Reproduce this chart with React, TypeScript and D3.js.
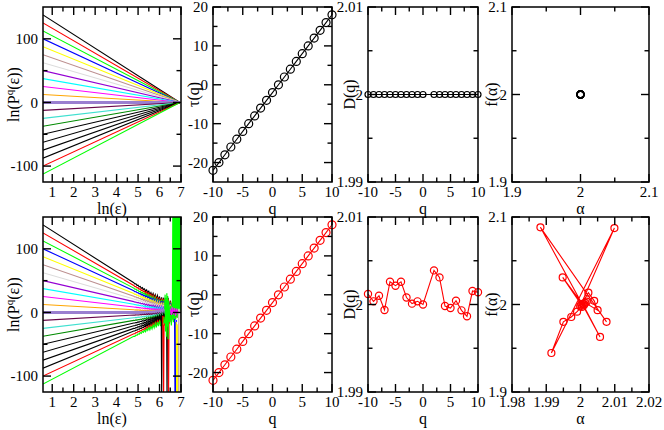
import React from "react";
import * as d3 from "d3";

const FONT = "Liberation Serif, Times New Roman, DejaVu Serif, serif";

// ---------- data ----------
const lnEpsDomain: [number, number] = [0.57, 7];
const lnEpsStart = 0.57;
const lnEpsConverge = 6.95;
const lnStartValues = [137.5, 125, 112.5, 100, 87.5, 75, 62.5, 50, 37.5, 25, 12.5, 0, -12.5, -25, -37.5, -50, -62.5, -75, -87.5, -100, -112.5];
const lineColors = ["#000000", "#ff0000", "#00ff00", "#0000ff", "#ffff00", "#bc8f8f", "#dcdcdc", "#9400d3", "#00ffff", "#ff00ff", "#ffa500", "#9a7fd0", "#670748", "#40e0d0", "#008b00", "#000000", "#000000", "#000000", "#000000", "#ff0000", "#00ff00"];
const jitterStartLn = 4.8;
const jitterStepLn = 0.05;
const bottomJitter = [0.4, -0.5, 0.7, -0.6, 0.9, -0.8, 1.0, -1.2, 1.3, -1.1, 1.6, -1.8, 2.0, -1.7, 2.3, -2.5, 2.2, -2.8, 3.0, -2.6, 3.4, -3.8, 4.0, -3.5, 4.6, -5.0, 5.5, -6.0, 7.0, -8.0, 9.0, -10, 11, -8, 9, -12, 10, -9, 8, -7, 6, -6, 5, -4];
const bottomSpikes: { color: string; pts: [number, number][] }[] = [
  { color: "#000000", pts: [[6.08, -3], [6.1, -130], [6.12, -6], [6.33, -2], [6.35, -130], [6.37, -5], [6.95, 3], [6.97, -20], [6.99, 4]] },
  { color: "#ff0000", pts: [[6.15, -5], [6.17, -60], [6.19, -130], [6.21, -20], [6.4, -10], [6.42, -130], [6.44, -15]] },
  { color: "#00ff00", pts: [[6.24, 5], [6.26, 28], [6.28, -30], [6.3, 22], [6.32, -38], [6.34, 30], [6.36, -22], [6.38, 26], [6.4, -42], [6.42, 18], [6.45, -8], [6.5, 10], [6.55, -6], [6.6, 12], [6.62, 160], [6.64, -6], [6.66, 160], [6.68, 2], [6.7, 160], [6.72, -10], [6.74, 160], [6.76, 0], [6.78, 160], [6.8, -4], [6.82, 160], [6.84, 2], [6.86, 160], [6.88, -8], [6.9, 160], [6.92, 0], [6.94, 160], [6.96, -2], [6.98, 160], [7.0, 0]] },
  { color: "#0000ff", pts: [[6.7, -10], [6.72, -130], [6.74, -15], [6.76, -130], [6.78, -12]] },
  { color: "#ffff00", pts: [[6.78, -15], [6.8, -130], [6.82, -20], [6.84, -130], [6.86, -18]] },
  { color: "#bc8f8f", pts: [[6.88, 5], [6.9, -130], [6.92, 0], [6.94, -130], [6.96, 4], [6.98, -130]] },
  { color: "#dcdcdc", pts: [[6.91, 6], [6.93, -130], [6.95, 2], [6.97, -130]] },
  { color: "#ff00ff", pts: [[6.5, 6], [6.55, -4], [6.6, 8], [6.65, -3], [6.7, 7], [6.75, -5], [6.8, 6], [6.85, -2]] },
];

const qValues = [-10, -9, -8, -7, -6, -5, -4, -3, -2, -1, 0, 1, 2, 3, 4, 5, 6, 7, 8, 9, 10];
const tauTop = [-22, -20, -18, -16, -14, -12, -10, -8, -6, -4, -2, 0, 2, 4, 6, 8, 10, 12, 14, 16, 18];
const tauBottom = [-22, -20, -18, -16, -14, -12, -10, -8, -6, -4, -2, 0, 2, 4, 6, 8, 10, 12, 14, 16, 18];

const qD = [-10, -9, -8, -7, -6, -5, -4, -3, -2, -1, 0, 2, 3, 4, 5, 6, 7, 8, 9, 10];
const dTop = [2, 2, 2, 2, 2, 2, 2, 2, 2, 2, 2, 2, 2, 2, 2, 2, 2, 2, 2, 2];
const dBottom = [2.0012, 2.00036, 2.001, 1.99937, 2.0026, 2.00215, 2.0026, 2.0008, 2.0001, 2.00036, 2.0, 2.0039, 2.0031, 1.99983, 1.9996, 2.00044, 1.99933, 1.99865, 2.00154, 2.0014];

const alphaTop = [2, 2, 2, 2, 2, 2, 2, 2, 2, 2, 2, 2, 2, 2, 2, 2, 2, 2, 2, 2];
const fTop = [2, 2, 2, 2, 2, 2, 2, 2, 2, 2, 2, 2, 2, 2, 2, 2, 2, 2, 2, 2];
const alphaBottom = [2.0076, 1.9883, 2.0057, 2.0009, 1.9948, 2.0002, 2.0023, 2.004, 2.005, 2.0014, 1.999, 1.9973, 1.995, 1.9915, 2.0099, 1.9999, 2.0006, 2.0018, 2.0011, 2.0004];
const fBottom = [1.9802, 2.0882, 1.9629, 1.9989, 2.031, 2.0, 2.0135, 2.0042, 1.9935, 2.0019, 1.9918, 1.9857, 1.9802, 1.9446, 2.0874, 1.998, 2.0008, 2.0032, 2.0004, 1.9972];

// ticks
const lnXMajor = [1, 2, 3, 4, 5, 6, 7];
const lnXMinor = [1.5, 2.5, 3.5, 4.5, 5.5, 6.5];
const lnYMajor = [-100, 0, 100];
const lnYMinor = [-50, 50];
const qMajor = [-10, -5, 0, 5, 10];
const qMinor = [-7.5, -2.5, 2.5, 7.5];
const tauYMajor = [-20, -10, 0, 10, 20];
const tauYMinor = [-15, -5, 5, 15];
const dYMajor = [1.99, 2, 2.01];
const dYMinor = [1.995, 2.005];
const fTopXMajor = [1.9, 2, 2.1];
const fTopXMinor = [1.95, 2.05];
const fYMajor = [1.9, 2, 2.1];
const fYMinor = [1.95, 2.05];
const fBotXMajor = [1.98, 1.99, 2, 2.01, 2.02];
const fBotXMinor = [1.985, 1.995, 2.005, 2.015];

// ---------- layout ----------
const COLS = [
  { x: 43, w: 138, tOff: -30 },
  { x: 213, w: 119, tOff: -20 },
  { x: 368, w: 110, tOff: -19 },
  { x: 512, w: 137, tOff: -21 },
];
const ROWS = [
  { y: 7, h: 175 },
  { y: 217, h: 175 },
];
const MAJ = 8;
const MIN = 4.5;

type Sc = d3.ScaleLinear<number, number>;

function Panel(props: {
  col: number;
  row: number;
  xDomain: [number, number];
  yDomain: [number, number];
  xMajor: number[];
  xMinor: number[];
  yMajor: number[];
  yMinor: number[];
  xTitle: React.ReactNode;
  yTitle: React.ReactNode;
  clipId?: string;
  children: (x: Sc, y: Sc) => React.ReactNode;
}) {
  const c = COLS[props.col];
  const r = ROWS[props.row];
  const x = d3.scaleLinear().domain(props.xDomain).range([c.x, c.x + c.w]);
  const y = d3.scaleLinear().domain(props.yDomain).range([r.y + r.h, r.y]);
  const bottom = r.y + r.h;
  const right = c.x + c.w;
  const tk = (key: string, x1: number, y1: number, x2: number, y2: number) => (
    <line key={key} x1={x1} y1={y1} x2={x2} y2={y2} stroke="#000" strokeWidth={1.4} />
  );
  const ticks: React.ReactNode[] = [];
  props.xMajor.forEach((v, i) => {
    const px = x(v);
    ticks.push(tk("xb" + i, px, bottom, px, bottom - MAJ));
    ticks.push(tk("xt" + i, px, r.y, px, r.y + MAJ));
  });
  props.xMinor.forEach((v, i) => {
    const px = x(v);
    ticks.push(tk("xbm" + i, px, bottom, px, bottom - MIN));
    ticks.push(tk("xtm" + i, px, r.y, px, r.y + MIN));
  });
  props.yMajor.forEach((v, i) => {
    const py = y(v);
    ticks.push(tk("yl" + i, c.x, py, c.x + MAJ, py));
    ticks.push(tk("yr" + i, right, py, right - MAJ, py));
  });
  props.yMinor.forEach((v, i) => {
    const py = y(v);
    ticks.push(tk("ylm" + i, c.x, py, c.x + MIN, py));
    ticks.push(tk("yrm" + i, right, py, right - MIN, py));
  });
  return (
    <g>
      {props.clipId && (
        <defs>
          <clipPath id={props.clipId}>
            <rect x={c.x} y={r.y} width={c.w} height={r.h} />
          </clipPath>
        </defs>
      )}
      <g clipPath={props.clipId ? `url(#${props.clipId})` : undefined}>{props.children(x, y)}</g>
      <rect x={c.x} y={r.y} width={c.w} height={r.h} fill="none" stroke="#000" strokeWidth={1.5} />
      {ticks}
      {props.xMajor.map((v, i) => (
        <text key={"xl" + i} x={x(v)} y={bottom + 15} textAnchor="middle" fontSize={15}>
          {String(v)}
        </text>
      ))}
      {props.yMajor.map((v, i) => (
        <text key={"yl" + i} x={c.x - 5} y={y(v)} dy="0.35em" textAnchor="end" fontSize={15}>
          {String(v)}
        </text>
      ))}
      <text x={c.x + c.w / 2} y={bottom + 32} textAnchor="middle" fontSize={16}>
        {props.xTitle}
      </text>
      <text
        transform={`translate(${c.x + c.tOff},${r.y + r.h / 2}) rotate(-90)`}
        textAnchor="middle"
        dy="0.35em"
        fontSize={16}
      >
        {props.yTitle}
      </text>
    </g>
  );
}

const lnYTitle = (
  <>
    <tspan>ln(P</tspan>
    <tspan dy={-6} fontSize={11}>q</tspan>
    <tspan dy={6}>(ε))</tspan>
  </>
);

function fanLines(x: Sc, y: Sc, noisy: boolean) {
  return lnStartValues.map((s, i) => {
    const pts: [number, number][] = [[lnEpsStart, s]];
    if (noisy) {
      const scale = 0.25 + (0.75 * Math.abs(s)) / 137.5;
      bottomJitter.forEach((j, k) => {
        const lx = jitterStartLn + jitterStepLn * k;
        const base = (s * (lnEpsConverge - lx)) / (lnEpsConverge - lnEpsStart);
        pts.push([lx, base + j * scale * (k % 2 === 0 ? 1 : (i % 3) * 0.3 + 0.7)]);
      });
    } else {
      pts.push([lnEpsConverge, 0]);
    }
    const line = d3.line<[number, number]>().x((d) => x(d[0])).y((d) => y(d[1]));
    return (
      <path
        key={i}
        d={line(pts) || ""}
        fill="none"
        stroke={lineColors[i]}
        strokeWidth={i === 11 ? 3 : 1.1}
      />
    );
  });
}

function seriesMarks(x: Sc, y: Sc, xs: number[], ys: number[], color: string, r: number) {
  const line = d3.line<number>().x((d) => x(xs[d])).y((d) => y(ys[d]));
  const idx = xs.map((_, i) => i);
  return (
    <g>
      <path d={line(idx) || ""} fill="none" stroke={color} strokeWidth={1.1} />
      {idx.map((i) => (
        <circle key={i} cx={x(xs[i])} cy={y(ys[i])} r={r} fill="none" stroke={color} strokeWidth={1.2} />
      ))}
    </g>
  );
}

export default function App() {
  return (
    <svg
      width={664}
      height={430}
      fontFamily={FONT}
      style={{ display: "block", position: "absolute", left: 0, top: 0, background: "#fff", fontFamily: FONT }}
    >
      <rect x={0} y={0} width={664} height={430} fill="#fff" />
      {/* top row */}
      <Panel col={0} row={0} xDomain={lnEpsDomain} yDomain={[-125, 150]} xMajor={lnXMajor} xMinor={lnXMinor} yMajor={lnYMajor} yMinor={lnYMinor} xTitle="ln(ε)" yTitle={lnYTitle} clipId="c1">
        {(x, y) => fanLines(x, y, false)}
      </Panel>
      <Panel col={1} row={0} xDomain={[-10, 10]} yDomain={[-25, 20]} xMajor={qMajor} xMinor={qMinor} yMajor={tauYMajor} yMinor={tauYMinor} xTitle="q" yTitle="τ(q)">
        {(x, y) => seriesMarks(x, y, qValues, tauTop, "#000", 4)}
      </Panel>
      <Panel col={2} row={0} xDomain={[-10, 10]} yDomain={[1.99, 2.01]} xMajor={qMajor} xMinor={qMinor} yMajor={dYMajor} yMinor={dYMinor} xTitle="q" yTitle="D(q)">
        {(x, y) => seriesMarks(x, y, qD, dTop, "#000", 3)}
      </Panel>
      <Panel col={3} row={0} xDomain={[1.9, 2.1]} yDomain={[1.9, 2.1]} xMajor={fTopXMajor} xMinor={fTopXMinor} yMajor={fYMajor} yMinor={fYMinor} xTitle="α" yTitle="f(α)">
        {(x, y) => seriesMarks(x, y, alphaTop, fTop, "#000", 3.3)}
      </Panel>
      {/* bottom row */}
      <Panel col={0} row={1} xDomain={lnEpsDomain} yDomain={[-125, 150]} xMajor={lnXMajor} xMinor={lnXMinor} yMajor={lnYMajor} yMinor={lnYMinor} xTitle="ln(ε)" yTitle={lnYTitle} clipId="c2">
        {(x, y) => (
          <g>
            {fanLines(x, y, true)}
            {bottomSpikes.map((s, i) => {
              const line = d3.line<[number, number]>().x((d) => x(d[0])).y((d) => y(d[1]));
              return <path key={"s" + i} d={line(s.pts) || ""} fill="none" stroke={s.color} strokeWidth={1.2} />;
            })}
          </g>
        )}
      </Panel>
      <Panel col={1} row={1} xDomain={[-10, 10]} yDomain={[-25, 20]} xMajor={qMajor} xMinor={qMinor} yMajor={tauYMajor} yMinor={tauYMinor} xTitle="q" yTitle="τ(q)">
        {(x, y) => seriesMarks(x, y, qValues, tauBottom, "#ff0000", 4)}
      </Panel>
      <Panel col={2} row={1} xDomain={[-10, 10]} yDomain={[1.99, 2.01]} xMajor={qMajor} xMinor={qMinor} yMajor={dYMajor} yMinor={dYMinor} xTitle="q" yTitle="D(q)">
        {(x, y) => seriesMarks(x, y, qD, dBottom, "#ff0000", 3.6)}
      </Panel>
      <Panel col={3} row={1} xDomain={[1.98, 2.02]} yDomain={[1.9, 2.1]} xMajor={fBotXMajor} xMinor={fBotXMinor} yMajor={fYMajor} yMinor={fYMinor} xTitle="α" yTitle="f(α)">
        {(x, y) => seriesMarks(x, y, alphaBottom, fBottom, "#ff0000", 3.5)}
      </Panel>
    </svg>
  );
}
